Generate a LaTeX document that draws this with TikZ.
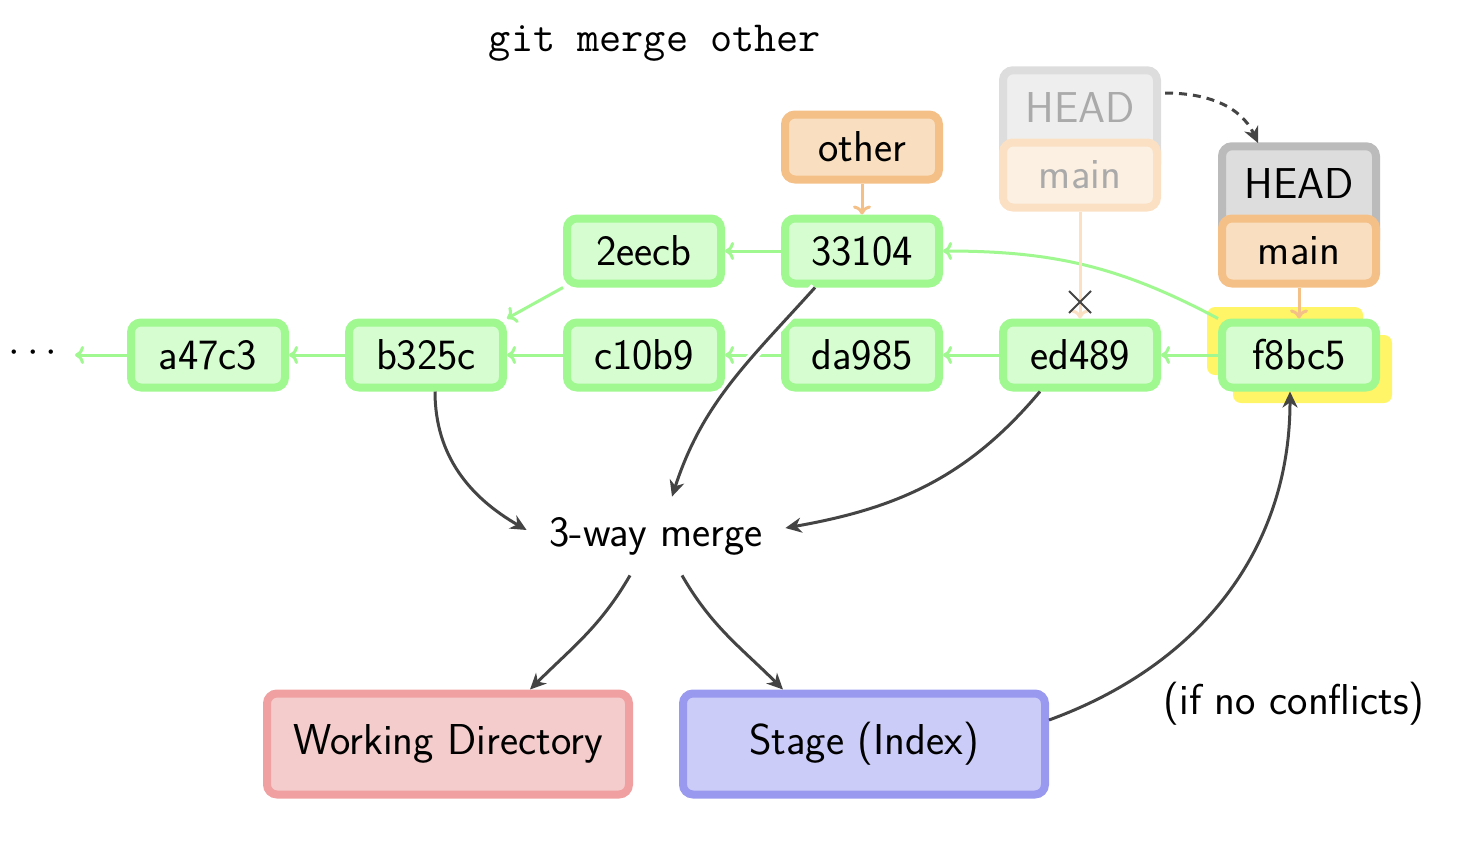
\documentclass[tikz,border=0pt]{standalone}
\usepackage{fontspec}
\usetikzlibrary{arrows.meta,shapes.misc}
\definecolor{gfill}{HTML}{D6FDD0}
\definecolor{gline}{HTML}{A0F890}
\definecolor{ofill}{HTML}{F9DFC0}
\definecolor{oline}{HTML}{F4C088}
\definecolor{hfill}{HTML}{DDDDDD}
\definecolor{hline}{HTML}{BBBBBB}
\definecolor{fhfill}{HTML}{EEEEEE}
\definecolor{fhline}{HTML}{DDDDDD}
\definecolor{fofill}{HTML}{FCF0E2}
\definecolor{foline}{HTML}{FBE0C4}
\definecolor{ftext}{HTML}{AAAAAA}
\definecolor{rfill}{HTML}{F5CCCC}
\definecolor{rline}{HTML}{F0A0A0}
\definecolor{bfill}{HTML}{CCCCF8}
\definecolor{bline}{HTML}{9999F0}
\definecolor{ylw}{HTML}{FFF566}
\definecolor{dgray}{HTML}{444444}
\pgfdeclarelayer{bg}
\pgfdeclarelayer{edges}
\pgfsetlayers{bg,edges,main}
\begin{document}
\begin{tikzpicture}[x=0.5pt,y=-0.5pt,
  font=\sffamily\fontsize{21.6}{26}\selectfont,
  box/.style={rounded corners=5pt, line width=4pt, minimum width=77pt, minimum height=32.5pt, inner sep=0pt},
  commit/.style={box, draw=gline, fill=gfill},
  branch/.style={box, draw=oline, fill=ofill},
  tallbox/.style={box, minimum height=51.75pt, text height=15pt, text depth=15pt, anchor=base},
  headbox/.style={tallbox, draw=hline, fill=hfill},
  fheadbox/.style={tallbox, draw=fhline, fill=fhfill, text=ftext},
  fbranch/.style={box, draw=foline, fill=fofill, text=ftext},
  bigbox/.style={rounded corners=5pt, line width=4pt, minimum width=181pt, minimum height=50.5pt, inner sep=0pt},
  garrow/.style={draw=gline, line width=1.5pt, -{To[length=4.5pt,width=9pt]}},
  oarrow/.style={draw=oline, line width=1.5pt, -{To[length=4.5pt,width=9pt]}},
  darrow/.style={draw=dgray, line width=1.5pt, -{Stealth[length=8pt,width=7.5pt,inset=2.5pt]}},
  hilite/.style={fill=ylw, rounded corners=4pt}
]
\useasboundingbox (0,0) rectangle (1470,846);

% title
\node[font=\ttfamily\fontsize{21.5}{25}\selectfont] (title) at (655,43) {git merge other};

% commits
\node[commit] (a47c3) at (208,355) {a47c3};
\node[commit] (b325c) at (426,355) {b325c};
\node[commit] (c10b9) at (644,355) {c10b9};
\node[commit] (da985) at (862,355) {da985};
\node[commit] (ed489) at (1080,355) {ed489};
\node[commit] (f8bc5) at (1299,355) {f8bc5};
\node[commit] (2eecb) at (644,251) {2eecb};
\node[commit] (33104) at (862,251) {33104};
\node (dots) at (33,353) {$\cdots$};
\coordinate (dend) at (75,355);

% branches
\node[branch] (other) at (862,147) {other};
\node[fheadbox] (fhead) at (1080,122) {HEAD};
\node[fbranch] (fmain) at (1080,175) {main};
\node[headbox] (head) at (1299,198) {HEAD};
\node[branch] (main) at (1299,251) {main};
\node[cross out, draw=dgray, line width=1pt, minimum size=10pt, inner sep=0pt] (xmark) at (1080,302) {};

% merge, targets
\node[minimum width=129pt, minimum height=39pt, inner sep=0pt] (merge) at (656,536) {3-way merge};
\node[bigbox, draw=rline, fill=rfill] (wd) at (448,744) {Working Directory};
\node[bigbox, draw=bline, fill=bfill] (stage) at (864,744) {Stage (Index)};
\node (cond) at (1294,704) {(if no conflicts)};

% highlight
\begin{pgfonlayer}{bg}
  \fill[hilite] (1207,307) rectangle (1363,375);
  \fill[hilite] (1233,335) rectangle (1392,403);
\end{pgfonlayer}

% green / orange edges
\begin{pgfonlayer}{edges}
  \draw[garrow] (a47c3) -- (dend);
  \draw[garrow] (b325c) -- (a47c3);
  \draw[garrow] (c10b9) -- (b325c);
  \draw[garrow] (da985) -- (c10b9);
  \draw[garrow] (ed489) -- (da985);
  \draw[garrow] (f8bc5) -- (ed489);
  \draw[garrow] (33104) -- (2eecb);
  \draw[garrow] (2eecb.south west) -- (b325c.north east);
  \draw[garrow] (f8bc5.north west) to[out=152,in=0] (33104.east);
  \draw[oarrow] (other) -- (33104);
  \draw[oarrow] (main) -- (f8bc5);
  \draw[draw=foline, line width=1.5pt, -{To[length=4.5pt,width=9pt]}] (fmain) -- (ed489);
\end{pgfonlayer}

% dashed HEAD move
\coordinate (d1) at (1165,93);
\coordinate (d2) at (1258,143);
\draw[darrow, dash pattern=on 4pt off 3pt] (d1) to[out=0,in=115] (d2);

% dark arrows
\draw[darrow] ([xshift=4.5pt]b325c.south) to[out=-90,in=150] ([yshift=3pt]merge.west);
\draw[darrow, preaction={draw=white, line width=5pt, -}] ([xshift=-23.5pt]33104.south) to[out=-132,in=72] ([xshift=8pt]merge.north);
\draw[darrow] ([xshift=-20pt]ed489.south) to[out=-130,in=10] ([yshift=4pt]merge.east);
\draw[darrow] ([xshift=-13pt]merge.south) to[out=-120,in=45] ([xshift=41pt]wd.north);
\draw[darrow] ([xshift=13pt]merge.south) to[out=-60,in=135] ([xshift=-40.5pt]stage.north);
\draw[darrow] ([yshift=12pt]stage.east) to[out=20,in=-90] ([xshift=-4.5pt]f8bc5.south);
\end{tikzpicture}
\end{document}
